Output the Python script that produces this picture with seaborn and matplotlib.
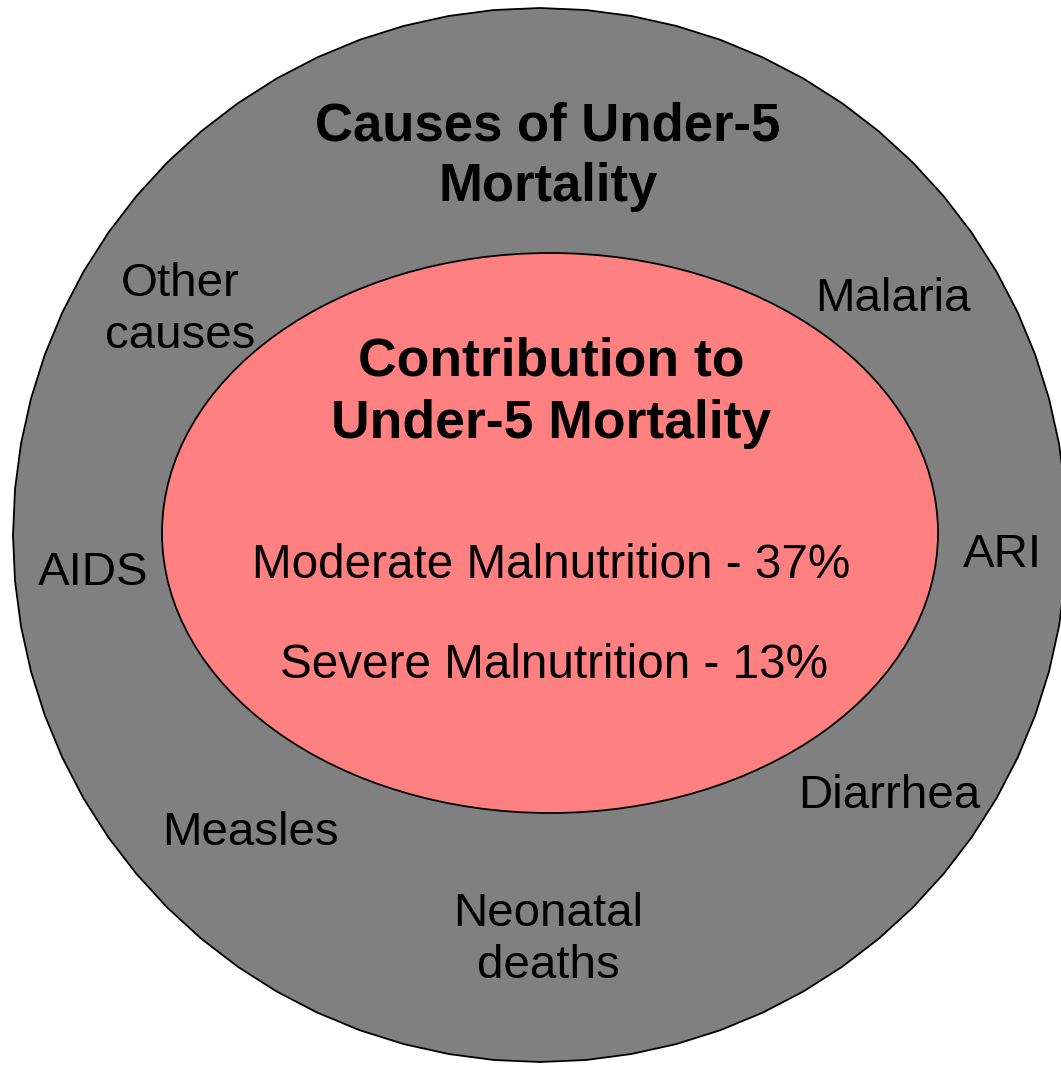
import numpy as np
import matplotlib
matplotlib.use("Agg")
import matplotlib.pyplot as plt
import seaborn as sns
from matplotlib.patches import Ellipse, Polygon

sns.set_theme(style="white")
plt.rcParams['font.family'] = ['Liberation Sans', 'DejaVu Sans']
plt.rcParams['text.color'] = 'black'

# data
outer_title = "Causes of Under-5\nMortality"
inner_title = "Contribution to\nUnder-5 Mortality"
malnutrition = ["Moderate Malnutrition", "Severe Malnutrition"]
share_pct = [37, 13]
causes = ["Other\ncauses", "Malaria", "AIDS", "ARI", "Diarrhea", "Measles", "Neonatal\ndeaths"]

# layout (pixel coords of the picture)
cause_xy = [(180, 310), (893, 299), (93, 573), (1002, 555), (889, 796), (250, 833), (548, 940)]
mal_xy = [(551, 565), (554, 666)]

fig = plt.figure(figsize=(10.61, 10.69), dpi=100)
ax = fig.add_axes([0, 0, 1, 1])
ax.set_xlim(0, 1061)
ax.set_ylim(1069, 0)
ax.set_aspect('equal')
ax.axis('off')

# outer circle, drawn as a many-sided polygon like the original
theta = np.linspace(0, 2 * np.pi, 73)[:-1]
cx, cy, r = 540, 535, 527
pts = np.column_stack([cx + r * np.cos(theta), cy + r * np.sin(theta)])
ax.add_patch(Polygon(pts, closed=True, facecolor='#808080', edgecolor='black', lw=1.3, zorder=1))

# inner ellipse
ax.add_patch(Ellipse((550, 533), 776, 560, facecolor='#FF8080', edgecolor='black', lw=1.3, zorder=2))

ax.text(548, 157, outer_title, ha='center', va='center', fontsize=38, fontweight='bold',
        linespacing=1.27, color='black', zorder=3)
ax.text(551, 393, inner_title, ha='center', va='center', fontsize=38.5, fontweight='bold',
        linespacing=1.32, color='black', zorder=3)

for name, pct, (x, y) in zip(malnutrition, share_pct, mal_xy):
    ax.text(x, y, f"{name} - {pct}%", ha='center', va='center', fontsize=34.3,
            color='black', zorder=3)

for name, (x, y) in zip(causes, cause_xy):
    ax.text(x, y, name, ha='center', va='center', fontsize=34.2, linespacing=1.25,
            color='black', zorder=3)

fig.savefig("out.png", dpi=100, facecolor='white')
